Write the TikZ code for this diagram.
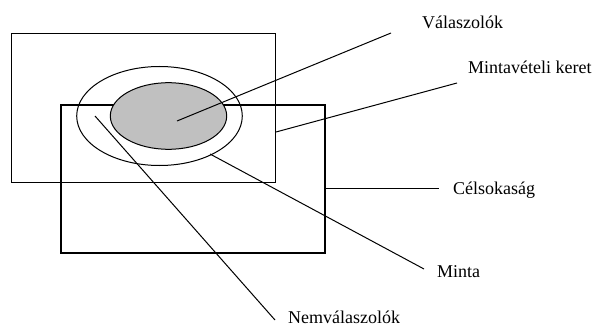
\documentclass[tikz,border=0pt]{standalone}
\usepackage{fontspec}
\setmainfont{Liberation Serif}
\begin{document}
\begin{tikzpicture}[x=1pt,y=-1pt,
  thinline/.style={line width=1pt},
  thickline/.style={line width=2.8pt},
  leader/.style={line width=1pt},
  lbl/.style={anchor=base west,inner sep=0pt,font=\fontsize{18}{21}\selectfont}]
\useasboundingbox (0,0) rectangle (596,326);
% sampling frame and target population
\draw[thinline] (11.5,34) rectangle (275,182);
\draw[thickline] (61,105) rectangle (325,253);
% sample and respondents
\draw[thinline] (159.5,116) ellipse [x radius=82.8, y radius=49.5];
\draw[thinline,fill={rgb,255:red,192;green,192;blue,192}] (168.5,116) ellipse [x radius=58.2, y radius=33.3];
% labels
\node[lbl] (valasz) at (422,29) {Válaszolók};
\node[lbl] (keret) at (468,74) {Mintavételi keret};
\node[lbl] (cel) at (453,194) {Célsokaság};
\node[lbl] (minta) at (437,277) {Minta};
\node[lbl] (nemv) at (288,323) {Nemválaszolók};
% leader line end points
\coordinate (pValaszS) at (177,121);
\coordinate (pValaszE) at (391,33);
\coordinate (pKeretS) at (276,132);
\coordinate (pKeretE) at (457,83);
\coordinate (pCelS) at (325,188);
\coordinate (pCelE) at (439,188);
\coordinate (pMintaS) at (210,154);
\coordinate (pMintaE) at (424,269);
\coordinate (pNemS) at (95,116);
\coordinate (pNemE) at (275,320);
% leader lines
\draw[leader] (pValaszS) -- (pValaszE);
\draw[leader] (pKeretS) -- (pKeretE);
\draw[leader] (pCelS) -- (pCelE);
\draw[leader] (pMintaS) -- (pMintaE);
\draw[leader] (pNemS) -- (pNemE);
\end{tikzpicture}
\end{document}
